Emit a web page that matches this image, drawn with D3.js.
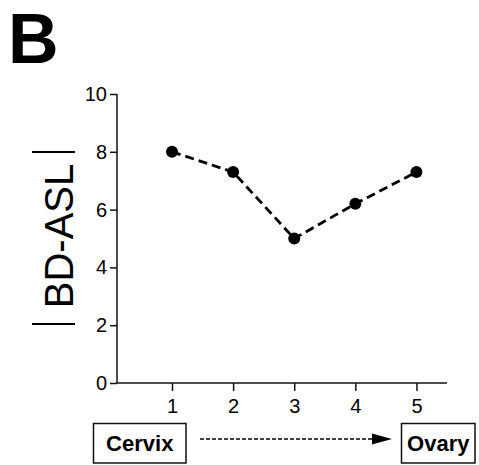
<!DOCTYPE html>
<html>
<head>
<meta charset="utf-8">
<script src="https://cdn.jsdelivr.net/npm/d3@7"></script>
<style>
  html, body { margin: 0; padding: 0; background: #fff; }
  svg { display: block; }
</style>
</head>
<body>
<svg id="chart" width="479" height="465"></svg>
<script>
// Sampling positions along the tract and the measured |BD-ASL| at each
const positions = [1, 2, 3, 4, 5];
const bdAsl = [8.0, 7.3, 5.0, 6.2, 7.3];
const yTicks = [0, 2, 4, 6, 8, 10];
const xTicks = [1, 2, 3, 4, 5];
const panelLabel = "B";
const yLabel = "BD-ASL";
const startLabel = "Cervix";
const endLabel = "Ovary";

const svg = d3.select("#chart");
const font = "Arial, 'Liberation Sans', Helvetica, sans-serif";

const x = d3.scaleLinear().domain([0.1, 5.5]).range([117, 447]);
const y = d3.scaleLinear().domain([0, 10]).range([383, 94]);

// Panel letter
svg.append("text")
  .attr("x", 8).attr("y", 63)
  .attr("font-family", font).attr("font-weight", "bold")
  .attr("font-size", 70).attr("fill", "#000")
  .text(panelLabel);

// Axes
const yAxis = svg.append("g")
  .attr("transform", `translate(${x(0.1)},0)`)
  .call(d3.axisLeft(y).tickValues(yTicks).tickFormat(d3.format("d"))
    .tickSize(7).tickPadding(3));
const xAxis = svg.append("g")
  .attr("transform", `translate(0,${y(0)})`)
  .call(d3.axisBottom(x).tickValues(xTicks).tickFormat(d3.format("d"))
    .tickSize(8).tickPadding(8));

[yAxis, xAxis].forEach(g => {
  g.attr("font-size", null).attr("font-family", null);
  g.select(".domain").attr("stroke", "#111").attr("stroke-width", 1.5);
  g.selectAll(".tick line").attr("stroke", "#111").attr("stroke-width", 1.5);
  g.selectAll(".tick text")
    .attr("font-family", font).attr("font-size", 20).attr("fill", "#000");
});
// Plain axis lines without end stubs
yAxis.select(".domain").attr("d", `M0,${y(10)}V${y(0)}`);
xAxis.select(".domain").attr("d", `M${x(0.1)},0H${x(5.5)}`);

// Y-axis title, flanked by absolute-value bars
svg.append("text")
  .attr("transform", "translate(73,236) rotate(-90)")
  .attr("text-anchor", "middle")
  .attr("font-family", font).attr("font-size", 40).attr("fill", "#000")
  .text(yLabel);
[152, 324].forEach(yy => {
  svg.append("line")
    .attr("x1", 32).attr("x2", 75).attr("y1", yy).attr("y2", yy)
    .attr("stroke", "#000").attr("stroke-width", 1.8);
});

// Dashed connecting line and dots
const line = d3.line().x((d, i) => x(positions[i])).y(d => y(d));
svg.append("path")
  .datum(bdAsl)
  .attr("d", line)
  .attr("fill", "none").attr("stroke", "#000")
  .attr("stroke-width", 2.8).attr("stroke-dasharray", "9,5");

svg.selectAll("circle.pt")
  .data(bdAsl)
  .join("circle")
  .attr("class", "pt")
  .attr("cx", (d, i) => x(positions[i]))
  .attr("cy", d => y(d))
  .attr("r", 6)
  .attr("fill", "#000");

// Direction legend: Cervix ---> Ovary
function labelBox(x0, x1, text) {
  svg.append("rect")
    .attr("x", x0).attr("y", 423.5)
    .attr("width", x1 - x0).attr("height", 39.5)
    .attr("fill", "#fff").attr("stroke", "#111").attr("stroke-width", 1.5);
  svg.append("text")
    .attr("x", (x0 + x1) / 2).attr("y", 451)
    .attr("text-anchor", "middle")
    .attr("font-family", font).attr("font-weight", "bold")
    .attr("font-size", 22).attr("fill", "#000")
    .text(text);
}
labelBox(93.5, 186, startLabel);
labelBox(401.5, 475, endLabel);

svg.append("line")
  .attr("x1", 200).attr("x2", 374).attr("y1", 439).attr("y2", 439)
  .attr("stroke", "#000").attr("stroke-width", 1.5)
  .attr("stroke-dasharray", "4,2");
svg.append("path")
  .attr("d", "M372,433.5L392,439L372,444.5Z")
  .attr("fill", "#000");
</script>
</body>
</html>
